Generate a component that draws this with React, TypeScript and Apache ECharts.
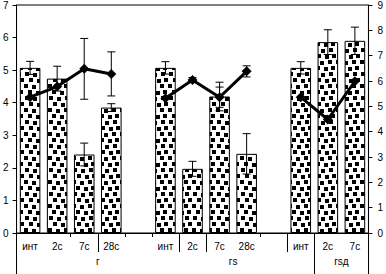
import { useEffect, useRef } from "react";
import * as echarts from "echarts";

const categories = ["инт", "2с", "7с", "28с", "", "инт", "2с", "7с", "28с", "", "инт", "2с", "7с"];
const groupLabels = ["", "", "", "г", "", "", "", "", "гs", "", "", "", "гsд", ""];
const barValues = [5.07, 4.74, 2.41, 3.85, null, 5.07, 1.97, 4.19, 2.43, null, 5.07, 5.86, 5.9];
const barErrors = [0.2, 0.38, 0.35, 0.12, null, 0.19, 0.23, 0.44, 0.62, null, 0.19, 0.38, 0.42];
const lineValues = [5.36, 5.78, 6.48, 6.28, null, 5.32, 6.04, 5.36, 6.38, null, 5.36, 4.48, 5.99];
const lineErrors = [0, 0, 1.2, 0.87, null, 0, 0.1, 0.4, 0.22, null, 0, 0, 0];
const leftMax = 7;
const rightMax = 9;
const shortTickIdx = [2, 4, 5, 9];
const longTickIdx = [3, 6, 7, 10];
const fullTickIdx = [0, 11];

const squares: number[][] = [
  [1, 0], [9, 1], [17, 0],
  [5, 6], [13, 7], [20, 6],
  [0, 12], [8, 13], [16, 12],
  [4, 18], [12, 19], [19, 18],
];

function makePattern() {
  const c = document.createElement("canvas");
  c.width = 24;
  c.height = 24;
  const ctx = c.getContext("2d")!;
  ctx.fillStyle = "#fff";
  ctx.fillRect(0, 0, 24, 24);
  ctx.fillStyle = "#000";
  squares.forEach(([x, y]) => ctx.fillRect(x, y, 4, 4));
  return { image: c.toDataURL(), repeat: "repeat", imageWidth: 24, imageHeight: 24 } as any;
}

function errData(vals: (number | null)[], errs: (number | null)[]) {
  const out: number[][] = [];
  vals.forEach((v, i) => {
    const e = errs[i];
    if (v != null && e != null && e > 0) out.push([i, v, e]);
  });
  return out;
}

function errRender(params: any, api: any) {
  const i = api.value(0);
  const v = api.value(1);
  const e = api.value(2);
  const top = api.coord([i, v + e]);
  const bot = api.coord([i, v - e]);
  const h = 4;
  const style = { stroke: "#000", lineWidth: 1 };
  return {
    type: "group",
    children: [
      { type: "line", shape: { x1: top[0], y1: top[1], x2: bot[0], y2: bot[1] }, style },
      { type: "line", shape: { x1: top[0] - h, y1: top[1], x2: top[0] + h, y2: top[1] }, style },
      { type: "line", shape: { x1: bot[0] - h, y1: bot[1], x2: bot[0] + h, y2: bot[1] }, style },
    ],
  };
}

const font = "'Liberation Sans', Arial, sans-serif";

export default function App() {
  const ref = useRef<HTMLDivElement>(null);
  useEffect(() => {
    if (!ref.current) return;
    const chart = echarts.init(ref.current, undefined, { renderer: "svg" });
    const hiddenAxis = (ticks: number[], len: number) => ({
      type: "category",
      data: categories,
      position: "bottom",
      axisLine: { show: false },
      axisLabel: { show: false },
      axisTick: {
        show: true,
        length: len,
        interval: (idx: number) => ticks.includes(idx),
        lineStyle: { color: "#000", width: 1 },
      },
      splitLine: { show: false },
    });
    chart.setOption({
      animation: false,
      textStyle: { fontFamily: font },
      grid: {
        left: 15,
        right: 16,
        top: 4,
        bottom: 41,
        show: true,
        borderColor: "#000",
        borderWidth: 1,
        backgroundColor: "transparent",
      },
      xAxis: [
        {
          type: "category",
          data: categories,
          position: "bottom",
          axisLine: { show: true, lineStyle: { color: "#000", width: 1 } },
          axisTick: {
            show: true,
            length: 4,
            interval: (idx: number) => shortTickIdx.includes(idx),
            lineStyle: { color: "#000" },
          },
          axisLabel: { interval: 0, margin: 8, fontSize: 10, color: "#000", fontFamily: font },
          splitLine: { show: false },
        },
        hiddenAxis(longTickIdx, 19),
        hiddenAxis(fullTickIdx, 41),
        {
          type: "category",
          data: groupLabels,
          boundaryGap: false,
          position: "bottom",
          axisLine: { show: false },
          axisTick: { show: false },
          axisLabel: { interval: 0, margin: 23, fontSize: 10, color: "#000", fontFamily: font },
          splitLine: { show: false },
        },
      ],
      yAxis: [
        {
          type: "value",
          min: 0,
          max: leftMax,
          interval: 1,
          position: "left",
          axisLine: { show: true, lineStyle: { color: "#000" } },
          axisTick: { show: true, length: 4, lineStyle: { color: "#000" } },
          axisLabel: { margin: 8, fontSize: 10, color: "#000", fontFamily: font },
          splitLine: { show: false },
        },
        {
          type: "value",
          min: 0,
          max: rightMax,
          interval: 1,
          position: "right",
          axisLine: { show: true, lineStyle: { color: "#000" } },
          axisTick: { show: true, length: 4, lineStyle: { color: "#000" } },
          axisLabel: { margin: 9, fontSize: 10, color: "#000", fontFamily: font },
          splitLine: { show: false },
        },
      ],
      series: [
        {
          type: "bar",
          xAxisIndex: 0,
          yAxisIndex: 0,
          data: barValues,
          barCategoryGap: "24%",
          itemStyle: { color: makePattern(), borderColor: "#000", borderWidth: 1 },
          z: 2,
        },
        {
          type: "custom",
          xAxisIndex: 0,
          yAxisIndex: 0,
          data: errData(barValues, barErrors),
          renderItem: errRender,
          encode: { x: 0, y: 1 },
          z: 3,
        },
        {
          type: "line",
          xAxisIndex: 0,
          yAxisIndex: 1,
          data: lineValues,
          connectNulls: false,
          symbol: "diamond",
          symbolSize: 10,
          lineStyle: { color: "#000", width: 3 },
          itemStyle: { color: "#000" },
          z: 4,
        },
        {
          type: "custom",
          xAxisIndex: 0,
          yAxisIndex: 1,
          data: errData(lineValues, lineErrors),
          renderItem: errRender,
          encode: { x: 0, y: 1 },
          z: 5,
        },
      ],
    });
    return () => chart.dispose();
  }, []);
  return (
    <div
      ref={ref}
      style={{ position: "fixed", left: 0, top: 0, width: 386, height: 274, background: "#fff" }}
    />
  );
}
